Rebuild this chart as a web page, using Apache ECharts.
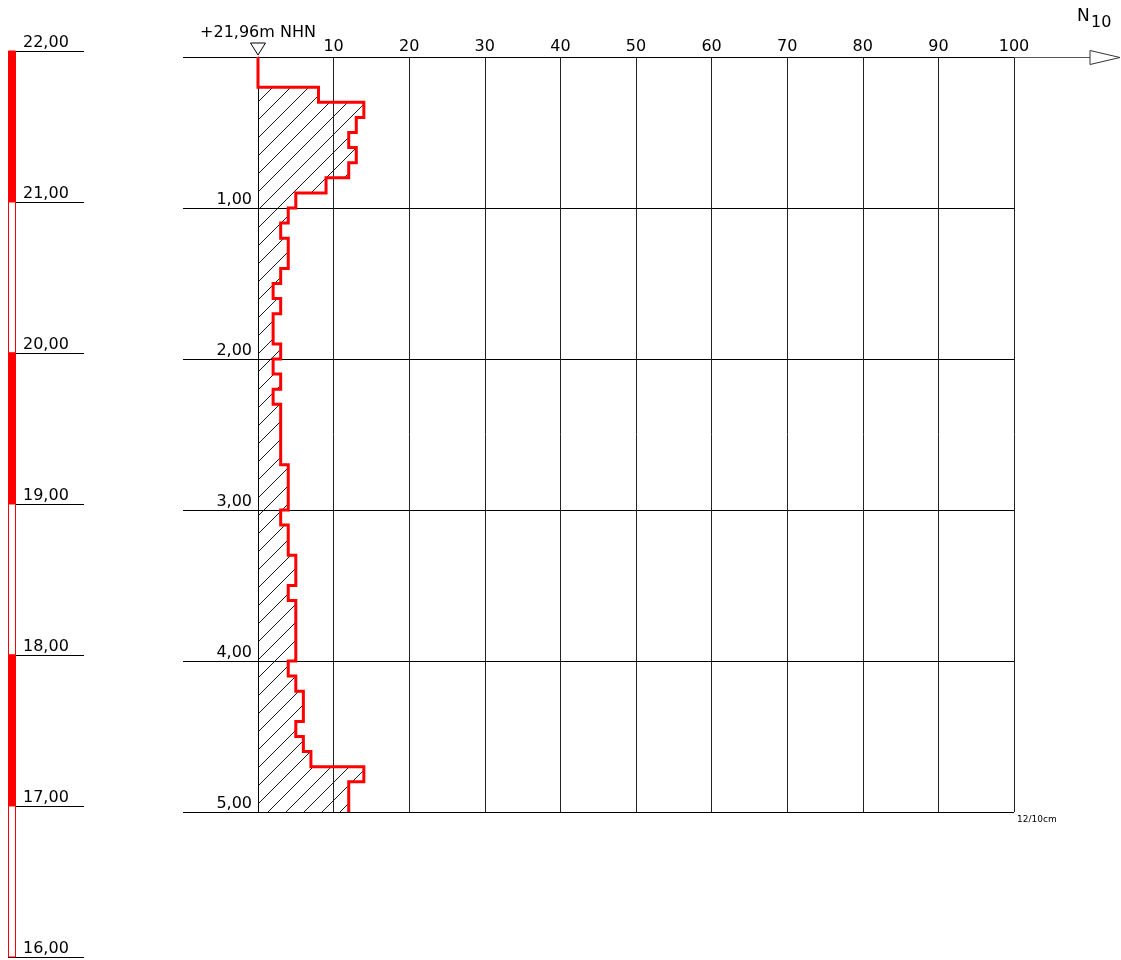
<!DOCTYPE html>
<html>
<head>
<meta charset="utf-8">
<title>Rammsondierung</title>
<script src="https://cdn.jsdelivr.net/npm/echarts@6/dist/echarts.min.js"></script>
<style>
  html, body { margin: 0; padding: 0; background: #fff; }
  #chart { width: 1121px; height: 960px; }
</style>
</head>
<body>
<div id="chart"></div>
<script>
// Dynamic probing: blows N10 per 10 cm of penetration, plotted against depth
const groundLevel = 21.96;            // m NHN at the probing point
const depthStep = 0.1;                // m per reading
const depthTops = [
  0.0, 0.1, 0.2, 0.3, 0.4, 0.5, 0.6, 0.7, 0.8, 0.9,
  1.0, 1.1, 1.2, 1.3, 1.4, 1.5, 1.6, 1.7, 1.8, 1.9,
  2.0, 2.1, 2.2, 2.3, 2.4, 2.5, 2.6, 2.7, 2.8, 2.9,
  3.0, 3.1, 3.2, 3.3, 3.4, 3.5, 3.6, 3.7, 3.8, 3.9,
  4.0, 4.1, 4.2, 4.3, 4.4, 4.5, 4.6, 4.7, 4.8, 4.9
];
const n10 = [
  0, 0, 8, 14, 13, 12, 13, 12, 9, 5,
  4, 3, 4, 4, 3, 2, 3, 2, 2, 3,
  2, 3, 2, 3, 3, 3, 3, 4, 4, 4,
  3, 4, 4, 5, 5, 4, 5, 5, 5, 5,
  4, 5, 6, 6, 5, 6, 7, 14, 12, 12
];
const n10Ticks = [0, 10, 20, 30, 40, 50, 60, 70, 80, 90, 100];
const depthTicks = [0, 1, 2, 3, 4, 5];
const elevationTicks = [22, 21, 20, 19, 18, 17, 16];
const layerFilled = [true, false, true, false, true, false];

const FONT = 'DejaVu Sans';
const RED = '#ff0000';
const fmt = v => v.toFixed(2).replace('.', ',');
const r1 = v => Math.round(v * 10) / 10;

// 45° hatch tile for the blow-count area (rising to the right on screen)
function hatchTile() {
  const s = 18;
  const c = document.createElement('canvas');
  c.width = s; c.height = s;
  const g = c.getContext('2d');
  g.strokeStyle = '#000';
  g.lineWidth = 0.9;
  g.beginPath();
  g.moveTo(0, s); g.lineTo(s, 0);
  g.moveTo(-1, 1); g.lineTo(1, -1);
  g.moveTo(s - 1, s + 1); g.lineTo(s + 1, s - 1);
  g.stroke();
  return c;
}
const hatch = hatchTile();

// step outline of the sounding curve
const stepPoints = [];
depthTops.forEach((d, i) => {
  stepPoints.push([n10[i], d]);
  stepPoints.push([n10[i], r1(d + depthStep)]);
});
const intervals = depthTops.map((d, i) => [n10[i], d, r1(d + depthStep)]);
const layers = layerFilled.map((f, i) => [elevationTicks[i], elevationTicks[i + 1], f ? 1 : 0]);

// scale shared by both vertical axes
const pxPerMetre = 151;
const plotTop = 57;
const depthMax = depthTicks[depthTicks.length - 1];
const elevTop = plotTop - (elevationTicks[0] - groundLevel) * pxPerMetre;

const chart = echarts.init(document.getElementById('chart'), null, { renderer: 'canvas' });

const option = {
  animation: false,
  backgroundColor: '#fff',
  grid: [
    { left: 258, top: plotTop, width: 756, height: depthMax * pxPerMetre, containLabel: false, outerBoundsMode: 'none' },
    { left: 8, top: elevTop, width: 8, height: (elevationTicks[0] - elevationTicks[elevationTicks.length - 1]) * pxPerMetre, containLabel: false, outerBoundsMode: 'none' }
  ],
  xAxis: [
    {
      gridIndex: 0, type: 'value', position: 'top',
      min: n10Ticks[0], max: n10Ticks[n10Ticks.length - 1], interval: 10,
      axisLine: { show: true, lineStyle: { color: '#000', width: 1 } },
      axisTick: { show: false },
      axisLabel: {
        show: true, margin: 2, color: '#000', fontFamily: FONT, fontSize: 16,
        formatter: v => (v === 0 ? '' : String(v))
      },
      splitLine: { show: true, showMinLine: true, showMaxLine: true, lineStyle: { color: '#222', width: 1 } }
    },
    { gridIndex: 1, type: 'value', min: 0, max: 1, show: false }
  ],
  yAxis: [
    {
      gridIndex: 0, type: 'value', inverse: true,
      min: depthTicks[0], max: depthMax, interval: 1,
      axisLine: { show: true, lineStyle: { color: '#000', width: 1 } },
      axisTick: { show: true, inside: false, length: 75, lineStyle: { color: '#000', width: 1 } },
      axisLabel: {
        show: true, margin: 6, align: 'right', verticalAlign: 'bottom',
        color: '#000', fontFamily: FONT, fontSize: 16,
        showMinLabel: true, showMaxLabel: true,
        formatter: v => (v === 0 ? '' : fmt(v))
      },
      splitLine: { show: true, showMinLine: true, showMaxLine: true, lineStyle: { color: '#000', width: 1 } }
    },
    {
      gridIndex: 1, type: 'value', position: 'right',
      min: elevationTicks[elevationTicks.length - 1], max: elevationTicks[0], interval: 1,
      axisLine: { show: false },
      axisTick: { show: true, inside: false, length: 76, lineStyle: { color: '#000', width: 1 } },
      axisLabel: {
        show: true, margin: 7, align: 'left', verticalAlign: 'bottom',
        color: '#000', fontFamily: FONT, fontSize: 16,
        showMinLabel: true, showMaxLabel: true,
        formatter: v => fmt(v)
      },
      splitLine: { show: false }
    }
  ],
  series: [
    {
      // hatched area between zero line and blow counts
      type: 'custom', xAxisIndex: 0, yAxisIndex: 0, silent: true, z: 1,
      encode: { x: 0, y: [1, 2] },
      data: intervals,
      renderItem: (params, api) => {
        const a = api.coord([0, api.value(1)]);
        const b = api.coord([api.value(0), api.value(2)]);
        const x0 = Math.round(a[0]), y0 = Math.round(a[1]);
        const x1 = Math.round(b[0]), y1 = Math.round(b[1]);
        return {
          type: 'rect',
          shape: { x: x0, y: y0, width: x1 - x0, height: y1 - y0 },
          style: { fill: { image: hatch, repeat: 'repeat' }, stroke: null }
        };
      }
    },
    {
      // sounding curve
      type: 'line', xAxisIndex: 0, yAxisIndex: 0, z: 5,
      data: stepPoints, symbol: 'none', clip: false, silent: true,
      lineStyle: { color: RED, width: 3, join: 'miter', cap: 'butt' }
    },
    {
      // elevation bar with alternating metre blocks
      type: 'custom', xAxisIndex: 1, yAxisIndex: 1, silent: true, z: 2,
      encode: { y: [0, 1] },
      data: layers,
      renderItem: (params, api) => {
        const a = api.coord([0, api.value(0)]);
        const b = api.coord([1, api.value(1)]);
        const filled = api.value(2) === 1;
        return {
          type: 'rect',
          shape: { x: a[0] + 0.5, y: a[1], width: b[0] - a[0] - 1, height: b[1] - a[1] },
          style: { fill: filled ? RED : '#fff', stroke: RED, lineWidth: 1 }
        };
      }
    }
  ]
};
chart.setOption(option);

// axis decorations placed from the chart's own scales
const [xL, yTop] = chart.convertToPixel({ gridIndex: 0 }, [n10Ticks[0], depthTicks[0]]);
const [xR, yBot] = chart.convertToPixel({ gridIndex: 0 }, [n10Ticks[n10Ticks.length - 1], depthMax]);

chart.setOption({
  graphic: [
    { type: 'line', silent: true, z: 10,
      shape: { x1: xR, y1: yTop + 0.5, x2: xR + 76, y2: yTop + 0.5 },
      style: { stroke: '#555', lineWidth: 1 } },
    { type: 'polygon', silent: true, z: 10,
      shape: { points: [[xR + 76, yTop - 6.5], [xR + 106, yTop + 0.5], [xR + 76, yTop + 7.5]] },
      style: { fill: '#fff', stroke: '#333', lineWidth: 1 } },
    { type: 'text', silent: true, z: 10, x: xR + 63, y: 25.5,
      style: { text: 'N', fill: '#000', font: '17px "' + FONT + '"', align: 'left', verticalAlign: 'bottom' } },
    { type: 'text', silent: true, z: 10, x: xR + 77, y: 30.5,
      style: { text: '10', fill: '#000', font: '16px "' + FONT + '"', align: 'left', verticalAlign: 'bottom' } },
    { type: 'polygon', silent: true, z: 10,
      shape: { points: [[xL - 7.5, yTop - 14], [xL + 7.5, yTop - 14], [xL, yTop - 2]] },
      style: { fill: '#fff', stroke: '#000', lineWidth: 1 } },
    { type: 'text', silent: true, z: 10, x: xL, y: yTop - 16,
      style: { text: '+' + fmt(groundLevel) + 'm NHN', fill: '#000', font: '16px "' + FONT + '"', align: 'center', verticalAlign: 'bottom' } },
    { type: 'text', silent: true, z: 10, x: xR + 3, y: yBot + 3,
      style: { text: n10[n10.length - 1] + '/10cm', fill: '#000', font: '9px "' + FONT + '"', align: 'left', verticalAlign: 'top' } }
  ]
});
</script>
</body>
</html>
